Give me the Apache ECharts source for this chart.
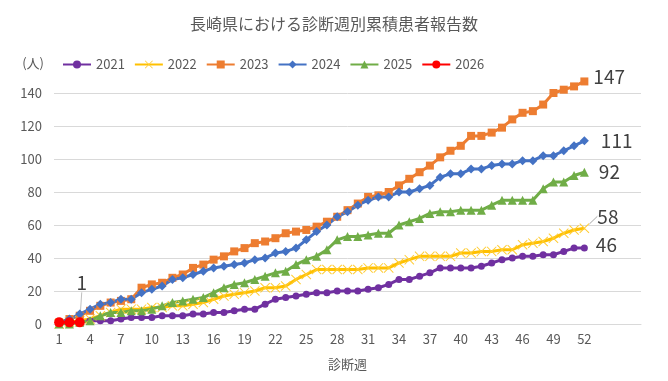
<!DOCTYPE html>
<html>
<head>
<meta charset="utf-8">
<script src="https://cdn.jsdelivr.net/npm/echarts@6/dist/echarts.min.js"></script>
<style>
html,body{margin:0;padding:0;background:#fff;}
#chart{width:668px;height:381px;}
</style>
</head>
<body>
<div id="chart"></div>
<script>
const weeks = ['1','2','3','4','5','6','7','8','9','10','11','12','13','14','15','16','17','18','19','20','21','22','23','24','25','26','27','28','29','30','31','32','33','34','35','36','37','38','39','40','41','42','43','44','45','46','47','48','49','50','51','52','','','','',''];
const s2021 = [0,1,1,2,2,2,3,4,4,4,5,5,5,6,6,7,7,8,9,9,12,15,16,17,18,19,19,20,20,20,21,22,24,27,27,29,31,34,34,34,34,35,37,39,40,41,41,42,42,44,46,46];
const s2022 = [0,1,2,3,5,7,9,9,9,10,10,11,11,12,13,15,17,18,19,20,22,22,23,27,30,33,33,33,33,33,34,34,34,37,39,41,41,41,41,43,43,44,44,45,45,48,49,50,52,55,57,58];
const s2023 = [1,3,5,8,11,13,14,15,22,24,25,28,30,34,36,39,41,44,46,49,50,52,55,56,57,59,62,65,69,73,77,78,80,84,88,92,96,101,105,108,114,114,116,119,124,128,129,133,140,142,144,147];
const s2024 = [1,3,6,9,12,13,15,15,19,21,23,27,28,30,32,34,35,36,37,39,40,43,44,46,51,56,60,65,68,72,75,77,77,80,80,82,84,89,91,91,94,94,96,97,97,99,99,102,102,105,108,111];
const s2025 = [0,0,1,2,5,7,7,8,8,9,11,13,14,15,16,19,22,24,25,27,29,31,32,36,39,41,45,51,53,53,54,55,55,60,62,64,67,68,68,69,69,69,72,75,75,75,75,82,86,86,90,92];
const s2026 = [1,1,1];
const seriesNames = ['2021','2022','2023','2024','2025','2026'];
const yTicks = {min:0, max:160, interval:20};

const colors = ['#7030A0','#FFC000','#ED7D31','#4472C4','#70AD47','#FF0000'];
const xPath = 'path://M0,0.7L0.7,0L5,4.3L9.3,0L10,0.7L5.7,5L10,9.3L9.3,10L5,5.7L0.7,10L0,9.3L4.3,5Z';
const symbols = ['circle', xPath, 'rect', 'diamond', 'triangle', 'circle'];
const symbolSizes = [7, 10, 8, 9, 9, 10];
const symbolColors = ['#7030A0','#FFCC33','#ED7D31','#4472C4','#70AD47','#FF0000'];
const lblFont = {fontFamily:'"Noto Sans CJK JP", sans-serif', fontSize:19, color:'#404040'};

function withEndLabel(arr, idx, labelCfg) {
  return arr.map((v, i) => i === idx ? {value: v, label: Object.assign({show: true}, labelCfg)} : v);
}

const allData = [s2021, s2022, s2023, s2024, s2025, s2026];
const labelCfgs = [
  {position:'right', distance:8, offset:[0,-3]},
  {position:'right', distance:8},
  {position:'right', distance:5, offset:[0,-5]},
  {position:'right', distance:12, offset:[0,0]},
  {position:'right', distance:10, offset:[0,0]},
  {position:'top', distance:5}
];

const series = allData.map((arr, k) => {
  const idx = k === 5 ? 2 : arr.length - 1;
  const s = {
    name: seriesNames[k],
    type: 'line',
    data: withEndLabel(arr, idx, Object.assign({}, lblFont, labelCfgs[k])),
    symbol: symbols[k],
    symbolSize: symbolSizes[k],
    showAllSymbol: true,
    lineStyle: {color: colors[k], width: 3},
    itemStyle: {color: symbolColors[k], borderColor: symbolColors[k], borderWidth: 0},
    label: {show: false},
    emphasis: {disabled: true},
    animation: false
  };
  if (k === 1) {
    s.labelLayout = {dx: 0, dy: -12};
    s.labelLine = {show: true, lineStyle: {color: '#a6a6a6', width: 1}};
  }
  if (k === 5) {
    s.labelLayout = {dx: 2, dy: -20};
    s.labelLine = {show: true, minTurnAngle: 0, lineStyle: {color: '#bfbfbf', width: 1}};
  }
  return s;
});

const chart = echarts.init(document.getElementById('chart'), null, {renderer: 'canvas'});
chart.setOption({
  backgroundColor: '#fff',
  animation: false,
  textStyle: {fontFamily: '"Noto Sans CJK JP", sans-serif'},
  title: {
    text: '長崎県における診断週別累積患者報告数',
    left: 'center', top: 11,
    textStyle: {fontSize: 16, fontWeight: 'normal', color: '#595959', fontFamily: '"Noto Sans CJK JP", sans-serif'}
  },
  legend: {
    data: seriesNames,
    left: 57, top: 53,
    itemWidth: 28, itemHeight: 10, itemGap: 9,
    textStyle: {fontSize: 13, color: '#595959', fontFamily: '"Noto Sans CJK JP", sans-serif'}
  },
  grid: {left: 54, right: 27, top: 60, bottom: 57, containLabel: false},
  xAxis: {
    type: 'category',
    data: weeks,
    boundaryGap: true,
    name: '診断週',
    nameLocation: 'middle',
    nameGap: 34,
    nameTextStyle: {fontSize: 13, color: '#595959'},
    axisLine: {lineStyle: {color: '#d9d9d9'}},
    axisTick: {show: false},
    axisLabel: {interval: 2, fontSize: 13, color: '#595959', margin: 9},
    splitLine: {show: false}
  },
  yAxis: {
    type: 'value',
    min: yTicks.min, max: yTicks.max, interval: yTicks.interval,
    name: '(人)',
    nameLocation: 'end',
    nameGap: -3,
    nameTextStyle: {fontSize: 13, color: '#595959', align: 'right', verticalAlign: 'middle', padding: [0, 10, 0, 0]},
    axisLine: {show: false},
    axisTick: {show: false},
    axisLabel: {fontSize: 13, color: '#595959', margin: 12, showMaxLabel: false},
    splitLine: {show: true, showMaxLine: false, lineStyle: {color: '#d9d9d9', width: 1}}
  },
  series: series
});
</script>
</body>
</html>
